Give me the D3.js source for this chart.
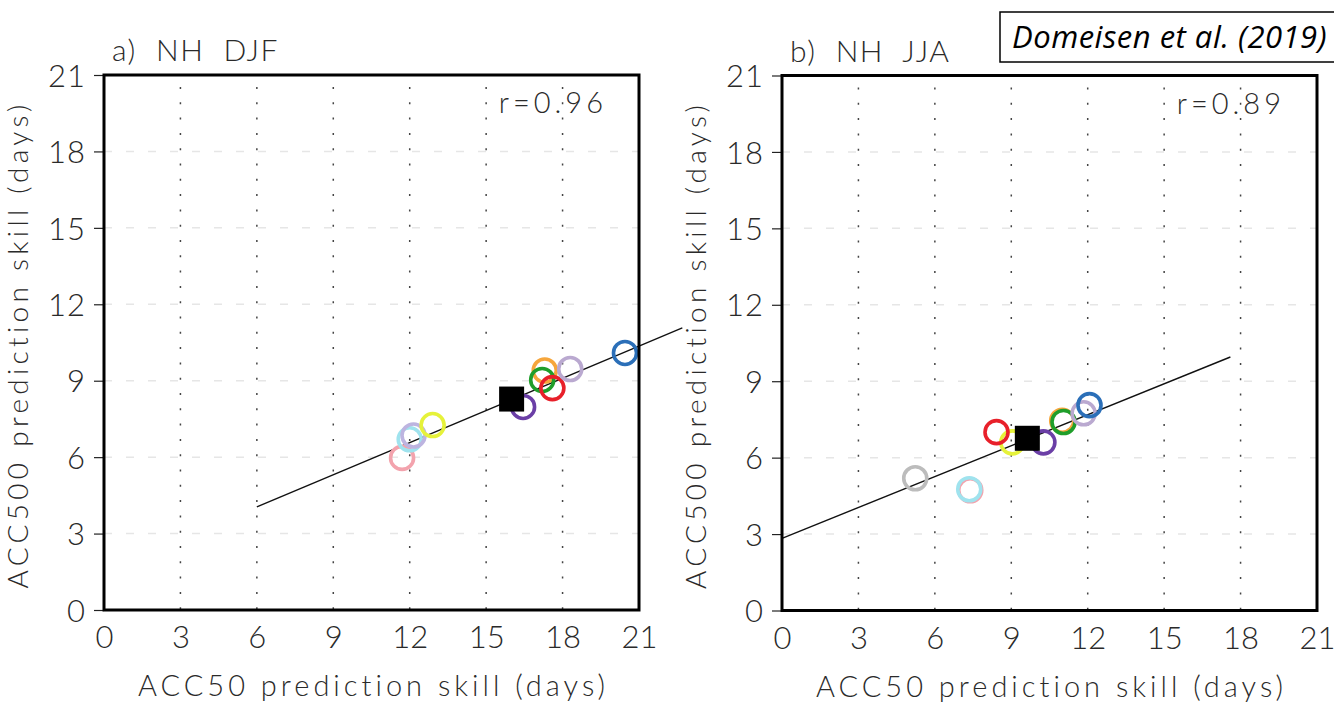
<!DOCTYPE html>
<html>
<head>
<meta charset="utf-8">
<script src="https://cdn.jsdelivr.net/npm/d3@7"></script>
<style>
  body { margin: 0; background: #fff; }
  text { font-family: Lato, "DejaVu Sans", sans-serif; font-weight: 300; fill: #2a2a2a; }
</style>
</head>
<body>
<script>
// model colours (one entry per model, same order in every series)
var models = ["pink", "cyan", "lavender", "yellow", "purple", "orange", "green", "red", "mauve", "blue", "gray"];
var modelColors = ["#f3a3ad", "#9fe3ee", "#bdb4e0", "#e6f23a", "#6b3fa6", "#f6a63c", "#1f9e2a", "#e8202a", "#baa9d0", "#2b6fb8", "#bcbcbc"];

// a) NH DJF
var acc50DJF  = [11.7, 12.0, 12.15, 12.9, 16.45, 17.3, 17.2, 17.6, 18.3, 20.45, null];
var acc500DJF = [5.97, 6.7, 6.85, 7.26, 7.97, 9.4, 9.03, 8.71, 9.46, 10.09, null];
var meanDJF = [16.0, 8.28];
var fitDJF = [[6, 4.05], [22.7, 11.07]];

// b) NH JJA
var acc50JJA  = [7.39, 7.35, null, 9.04, 10.26, 11.0, 11.05, 8.42, 11.84, 12.07, 5.23];
var acc500JJA = [4.72, 4.76, null, 6.6, 6.6, 7.45, 7.4, 7.0, 7.74, 8.06, 5.19];
var meanJJA = [9.63, 6.76];
var fitJJA = [[0, 2.83], [17.6, 9.95]];

var ticks = [0, 3, 6, 9, 12, 15, 18, 21];

var width = 1334, height = 705;
var svg = d3.select("body").append("svg")
    .attr("width", width)
    .attr("height", height);

var panels = [
  { title: "a)  NH  DJF", r: "r=0.96", left: 104, top: 75, x: acc50DJF, y: acc500DJF, mean: meanDJF, fit: fitDJF },
  { title: "b)  NH  JJA", r: "r=0.89", left: 782, top: 75.5, x: acc50JJA, y: acc500JJA, mean: meanJJA, fit: fitJJA }
];
var size = 535;

panels.forEach(function(p) {
  var x = d3.scaleLinear().domain([0, 21]).range([0, size]);
  var y = d3.scaleLinear().domain([0, 21]).range([size, 0]);
  var g = svg.append("g").attr("transform", "translate(" + p.left + "," + p.top + ")");

  // faint dashed horizontal lines
  g.selectAll(".hgrid")
    .data(ticks.slice(1, -1))
    .enter().append("line")
    .attr("x1", 0).attr("x2", size)
    .attr("y1", function(d) { return y(d); })
    .attr("y2", function(d) { return y(d); })
    .attr("stroke", "#e6e6e6")
    .attr("stroke-width", 1.5)
    .attr("stroke-dasharray", "8,14");

  // dotted vertical lines
  g.selectAll(".vgrid")
    .data(ticks.slice(1, -1))
    .enter().append("line")
    .attr("x1", function(d) { return x(d); })
    .attr("x2", function(d) { return x(d); })
    .attr("y1", 12).attr("y2", size)
    .attr("stroke", "#444")
    .attr("stroke-width", 1.5)
    .attr("stroke-dasharray", "2,13.3");

  // y axis ticks + labels
  var yAxis = d3.axisLeft(y).tickValues(ticks).tickSize(10).tickPadding(8);
  var ya = g.append("g").call(yAxis);
  ya.select(".domain").remove();
  ya.selectAll("line").attr("stroke", "#222").attr("stroke-width", 1.2);
  ya.selectAll("text").attr("font-size", 31).attr("letter-spacing", 1).attr("dy", "0.36em");

  // x labels (no ticks)
  var xAxis = d3.axisBottom(x).tickValues(ticks).tickSize(0).tickPadding(16);
  var xa = g.append("g").attr("transform", "translate(0," + size + ")").call(xAxis);
  xa.select(".domain").remove();
  xa.selectAll("text").attr("font-size", 31).attr("dy", "0.71em");

  // regression line
  g.append("path")
    .datum(p.fit)
    .attr("d", d3.line().x(function(d) { return x(d[0]); }).y(function(d) { return y(d[1]); }))
    .attr("stroke", "#111")
    .attr("stroke-width", 1.4)
    .attr("fill", "none");

  // model circles
  var pts = models.map(function(m, i) { return { c: modelColors[i], x: p.x[i], y: p.y[i] }; })
    .filter(function(d) { return d.x != null; });
  g.selectAll(".pt")
    .data(pts)
    .enter().append("circle")
    .attr("cx", function(d) { return x(d.x); })
    .attr("cy", function(d) { return y(d.y); })
    .attr("r", 11.5)
    .attr("fill", "none")
    .attr("stroke", function(d) { return d.c; })
    .attr("stroke-width", 3.6);

  // multi-model mean
  g.append("rect")
    .attr("x", x(p.mean[0]) - 12.5)
    .attr("y", y(p.mean[1]) - 12.5)
    .attr("width", 25).attr("height", 25)
    .attr("fill", "#000");

  // frame
  g.append("rect")
    .attr("width", size).attr("height", size)
    .attr("fill", "none")
    .attr("stroke", "#000")
    .attr("stroke-width", 3);

  g.append("text")
    .attr("x", 8).attr("y", -14)
    .attr("font-size", 30)
    .attr("letter-spacing", 1.5)
    .style("white-space", "pre")
    .text(p.title);

  g.append("text")
    .attr("x", 503).attr("y", 38)
    .attr("text-anchor", "end")
    .attr("font-size", 29)
    .attr("letter-spacing", 4)
    .text(p.r);

  g.append("text")
    .attr("x", size / 2 + 2).attr("y", size + 86)
    .attr("text-anchor", "middle")
    .attr("font-size", 29)
    .attr("letter-spacing", 4)
    .text("ACC50 prediction skill (days)");

  g.append("text")
    .attr("transform", "translate(-76," + (size / 2 + 2) + ") rotate(-90)")
    .attr("text-anchor", "middle")
    .attr("font-size", 28)
    .attr("letter-spacing", 4.3)
    .text("ACC500 prediction skill (days)");
});

// citation box
svg.append("rect")
  .attr("x", 1000).attr("y", 12)
  .attr("width", 345).attr("height", 50)
  .attr("fill", "#fff")
  .attr("stroke", "#000")
  .attr("stroke-width", 1.5);
svg.append("text")
  .attr("x", 1012).attr("y", 48)
  .attr("font-size", 31)
  .attr("letter-spacing", 0.5)
  .style("font-family", "'Open Sans', sans-serif")
  .style("font-style", "italic")
  .style("font-weight", 400)
  .style("fill", "#000")
  .text("Domeisen et al. (2019)");
</script>
</body>
</html>
